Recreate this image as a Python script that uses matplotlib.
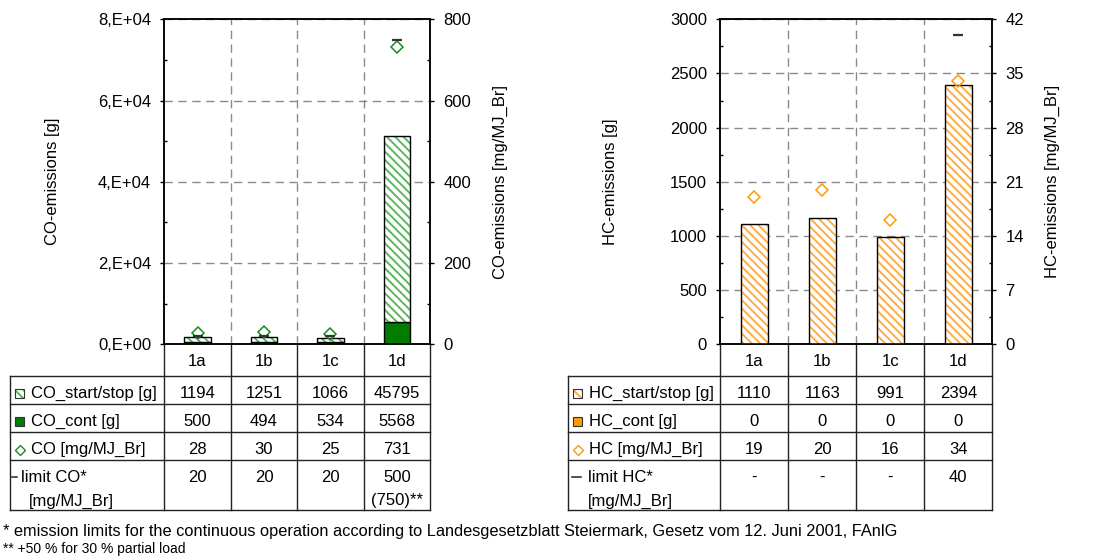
import numpy as np
import matplotlib
matplotlib.use('Agg')
import matplotlib.pyplot as plt
from matplotlib.patches import Rectangle
from matplotlib.ticker import MultipleLocator, FuncFormatter

cases = ['1a', '1b', '1c', '1d']

co_start_stop = [1194, 1251, 1066, 45795]
co_cont = [500, 494, 534, 5568]
co_specific = [28, 30, 25, 731]
co_limit = [20, 20, 20, 750]
co_limit_text = ['20', '20', '20', '500\n(750)**']

hc_start_stop = [1110, 1163, 991, 2394]
hc_cont = [0, 0, 0, 0]
hc_specific = [19, 20, 16, 34]
hc_limit = [np.nan, np.nan, np.nan, 40]
hc_limit_text = ['-', '-', '-', '40']

footnotes = ['* emission limits for the continuous operation according to '
             'Landesgesetzblatt Steiermark, Gesetz vom 12. Juni 2001, FAnlG',
             '** +50 % for 30 % partial load']

W, H = 1105, 560
plt.rcParams['font.family'] = ['Liberation Sans', 'DejaVu Sans']
plt.rcParams['font.size'] = 12
plt.rcParams['hatch.linewidth'] = 1.4

HATCH = '\\\\\\\\'
GRID = '#8a8a8a'
LINE = '#222222'

fig = plt.figure(figsize=(W / 100, H / 100), dpi=100)

# pixel-coordinate layer for the data tables and footnotes
over = fig.add_axes([0, 0, 1, 1])
over.set_xlim(0, W)
over.set_ylim(H, 0)
over.axis('off')

AX_TOP, AX_BOT = 19.3, 344.3
ROW_LINES = [376, 404, 432, 460, 510]
BASELINES = [398, 426, 454]


def sci_fmt(v, pos):
    if v == 0:
        return '0,E+00'
    e = int(np.floor(np.log10(abs(v))))
    return '{:.0f},E+{:02d}'.format(v / 10 ** e, e)


def panel(x0, x1, start, cont, spec, limit, left, right, hatch_col, solid_col,
          mark_col, ylabels, label_x, left_fmt=None):
    ax = fig.add_axes([x0 / W, 1 - AX_BOT / H, (x1 - x0) / W, (AX_BOT - AX_TOP) / H])
    pos = np.arange(len(cases))
    ax.bar(pos, cont, 0.4, color=solid_col, edgecolor='black', lw=1, zorder=3)
    ax.bar(pos, start, 0.4, bottom=cont, color='white', edgecolor=hatch_col,
           hatch=HATCH, lw=0, zorder=3)
    ax.bar(pos, start, 0.4, bottom=cont, fill=False, edgecolor='black', lw=1, zorder=4)

    ax.set_xlim(-0.5, len(cases) - 0.5)
    ax.set_xticks(pos)
    ax.set_xticks(pos[:-1] + 0.5, minor=True)
    ax.tick_params(axis='x', which='both', length=0, labelbottom=False)
    ax.xaxis.grid(True, which='minor', color=GRID, lw=1, dashes=(6, 4))

    ax.set_ylim(0, left[0])
    ax.yaxis.set_major_locator(MultipleLocator(left[1]))
    ax.yaxis.set_minor_locator(MultipleLocator(left[1] / 2))
    if left_fmt is not None:
        ax.yaxis.set_major_formatter(FuncFormatter(left_fmt))
    ax.yaxis.grid(True, which='major', color=GRID, lw=1, dashes=(6, 4))
    ax.set_axisbelow(True)
    ax.tick_params(axis='y', which='major', direction='out', length=3, width=1, pad=6.5)
    ax.tick_params(axis='y', which='minor', direction='in', length=2.5, width=1)
    ax.set_ylabel(ylabels[0])
    ax.yaxis.set_label_coords(label_x[0], 0.5)

    ax2 = ax.twinx()
    ax2.set_ylim(0, right[0])
    ax2.yaxis.set_major_locator(MultipleLocator(right[1]))
    ax2.yaxis.set_minor_locator(MultipleLocator(right[1] / 2))
    ax2.tick_params(axis='y', which='major', direction='out', length=3, width=1, pad=6.5)
    ax2.tick_params(axis='y', which='minor', direction='in', length=2.5, width=1)
    ax2.plot(pos, spec, ls='none', marker='D', ms=6, mfc='none', mec=mark_col, mew=1.1)
    ax2.plot(pos, limit, ls='none', marker='_', ms=7.5, mew=1.6, color='#333333')
    ax2.set_ylabel(ylabels[1])
    ax2.yaxis.set_label_coords(label_x[1], 0.5)
    for a in (ax, ax2):
        for s in a.spines.values():
            s.set_linewidth(1.1)
    return ax


def table(x0, x1, bx, rows, hatch_col, solid_col, mark_col, limit_label, limit_text,
          limit_dx):
    edges = np.linspace(x0, x1, len(cases) + 1)
    centres = (edges[:-1] + edges[1:]) / 2
    for x in edges:
        over.plot([x, x], [AX_BOT, ROW_LINES[-1]], color=LINE, lw=1)
    over.plot([bx, bx], [ROW_LINES[0], ROW_LINES[-1]], color=LINE, lw=1)
    for y in ROW_LINES:
        over.plot([bx, x1], [y, y], color=LINE, lw=1)
    for c, name in zip(centres, cases):
        over.text(c, 366.5, name, ha='center', va='baseline')

    tx = bx + 21
    for (label, vals), base in zip(rows, BASELINES):
        over.text(tx, base, label, va='baseline')
        for c, v in zip(centres, vals):
            over.text(c, base, str(v), ha='center', va='baseline')

    # legend symbols in the label column
    over.add_patch(Rectangle((bx + 5, 389), 9, 9, facecolor='white', edgecolor=hatch_col,
                             hatch=HATCH, lw=0))
    over.add_patch(Rectangle((bx + 5, 389), 9, 9, fill=False, edgecolor='#333333', lw=0.8))
    over.add_patch(Rectangle((bx + 5, 417), 9, 9, facecolor=solid_col,
                             edgecolor='#333333', lw=0.8))
    over.plot([bx + 9.5], [449.5], marker='D', ms=4.6, mfc='none', mec=mark_col, mew=1)
    over.plot([bx + limit_dx[0], bx + limit_dx[1]], [476.5, 476.5], color=LINE, lw=1.1)
    over.text(bx + limit_dx[2], 482, limit_label[0], va='baseline')
    over.text(bx + limit_dx[3], 505.5, limit_label[1], va='baseline')
    for c, t in zip(centres, limit_text):
        for i, part in enumerate(t.split('\n')):
            over.text(c, 482 + 23.5 * i, part, ha='center', va='baseline')


# CO panel
panel(164.3, 430, co_start_stop, co_cont, co_specific, co_limit,
      (80000, 20000), (800, 200), '#5cb65c', '#007d00', '#1a8c1a',
      ('CO-emissions [g]', 'CO-emissions [mg/MJ_Br]'), (-0.394, 1.237),
      left_fmt=sci_fmt)
table(164.3, 430, 10, [('CO_start/stop [g]', co_start_stop),
                       ('CO_cont [g]', co_cont),
                       ('CO [mg/MJ_Br]', co_specific)],
      '#5cb65c', '#007d00', '#1a8c1a', ('limit CO*', '[mg/MJ_Br]'), co_limit_text,
      (1.5, 7, 11, 18.5))

# HC panel
panel(720.3, 992.3, hc_start_stop, hc_cont, hc_specific, hc_limit,
      (3000, 500), (42, 7), '#ffac45', '#ff9a00', '#ff9a00',
      ('HC-emissions [g]', 'HC-emissions [mg/MJ_Br]'), (-0.376, 1.194))
table(720.3, 992.3, 568.3, [('HC_start/stop [g]', hc_start_stop),
                            ('HC_cont [g]', hc_cont),
                            ('HC [mg/MJ_Br]', hc_specific)],
      '#ffac45', '#ff9a00', '#ff9a00', ('limit HC*', '[mg/MJ_Br]'), hc_limit_text,
      (4, 13, 20, 20))

over.text(3, 536, footnotes[0], fontsize=11.8, va='baseline')
over.text(3, 552.5, footnotes[1], fontsize=10, va='baseline')

fig.savefig('out.png', dpi=100)
